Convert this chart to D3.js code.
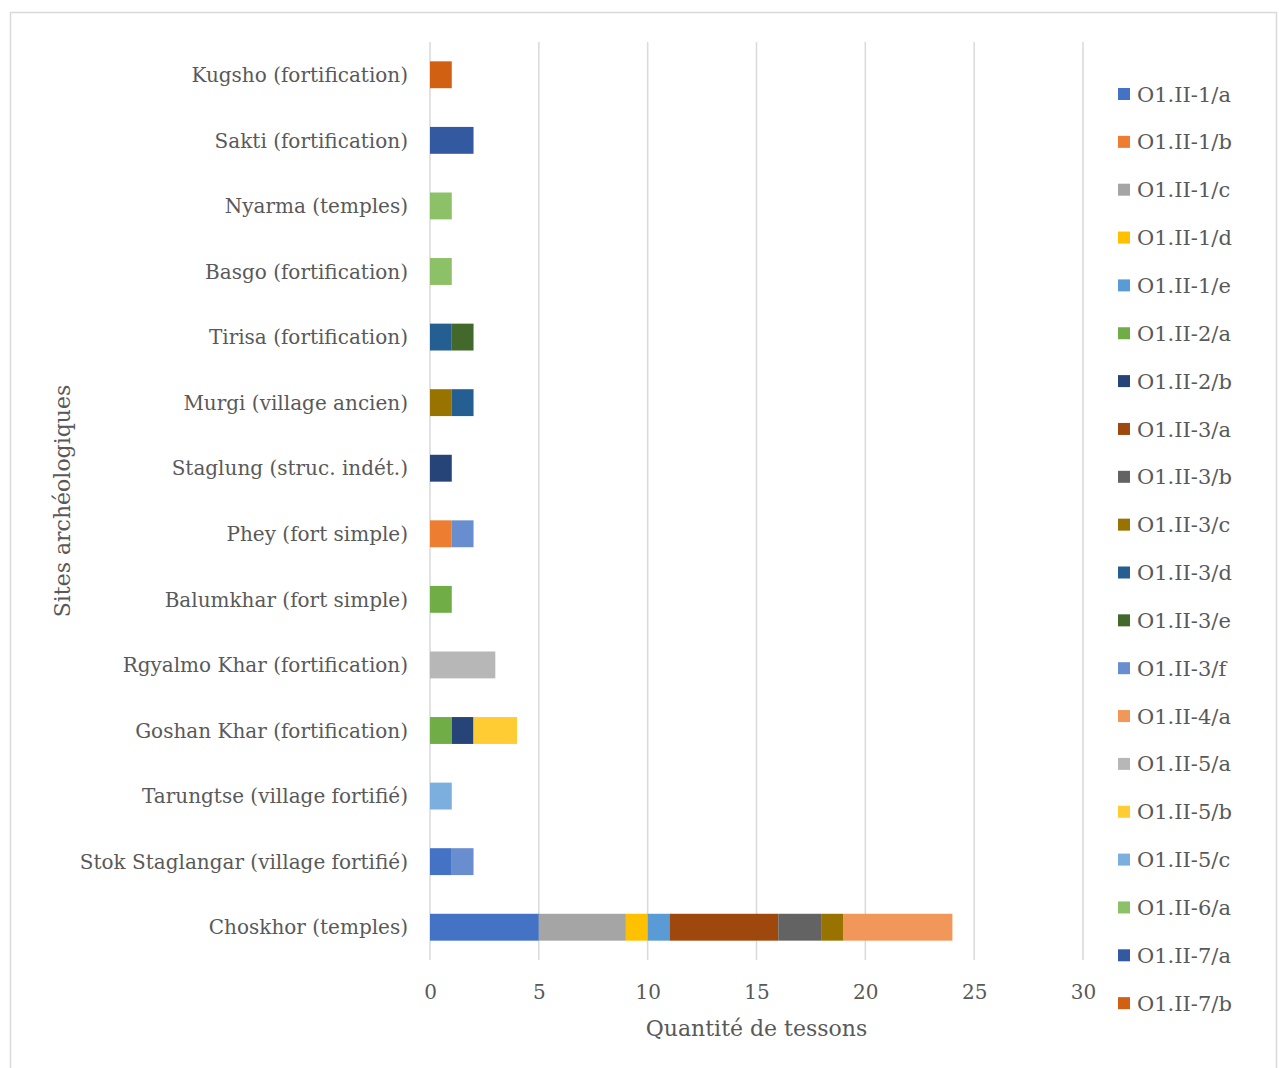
<!DOCTYPE html>
<html>
<head>
<meta charset="utf-8">
<script src="https://cdn.jsdelivr.net/npm/d3@7"></script>
<style>
  html, body { margin: 0; padding: 0; background: #fff; }
  svg { display: block; }
</style>
</head>
<body>
<svg id="chart" width="1279" height="1068"></svg>
<script>
// Categories (top to bottom)
const categories = [
  "Kugsho (fortification)",
  "Sakti (fortification)",
  "Nyarma (temples)",
  "Basgo (fortification)",
  "Tirisa (fortification)",
  "Murgi (village ancien)",
  "Staglung (struc. indét.)",
  "Phey (fort simple)",
  "Balumkhar (fort simple)",
  "Rgyalmo Khar (fortification)",
  "Goshan Khar (fortification)",
  "Tarungtse (village fortifié)",
  "Stok Staglangar (village fortifié)",
  "Choskhor (temples)"
];

const seriesNames = [
  "O1.II-1/a","O1.II-1/b","O1.II-1/c","O1.II-1/d","O1.II-1/e",
  "O1.II-2/a","O1.II-2/b",
  "O1.II-3/a","O1.II-3/b","O1.II-3/c","O1.II-3/d","O1.II-3/e","O1.II-3/f",
  "O1.II-4/a","O1.II-5/a","O1.II-5/b","O1.II-5/c","O1.II-6/a",
  "O1.II-7/a","O1.II-7/b"
];

const seriesColors = [
  "#4472C4","#ED7D31","#A5A5A5","#FFC000","#5B9BD5",
  "#70AD47","#264478",
  "#9E480E","#636363","#997300","#255E91","#43682B","#698ED0",
  "#F1975A","#B7B7B7","#FFCD33","#7CAFDD","#8CC168",
  "#335AA1","#D26012"
];

// values per series, aligned with categories (top to bottom)
const s1a = [0,0,0,0,0,0,0,0,0,0,0,0,1,5];
const s1b = [0,0,0,0,0,0,0,1,0,0,0,0,0,0];
const s1c = [0,0,0,0,0,0,0,0,0,0,0,0,0,4];
const s1d = [0,0,0,0,0,0,0,0,0,0,0,0,0,1];
const s1e = [0,0,0,0,0,0,0,0,0,0,0,0,0,1];
const s2a = [0,0,0,0,0,0,0,0,1,0,1,0,0,0];
const s2b = [0,0,0,0,0,0,1,0,0,0,1,0,0,0];
const s3a = [0,0,0,0,0,0,0,0,0,0,0,0,0,5];
const s3b = [0,0,0,0,0,0,0,0,0,0,0,0,0,2];
const s3c = [0,0,0,0,0,1,0,0,0,0,0,0,0,1];
const s3d = [0,0,0,0,1,1,0,0,0,0,0,0,0,0];
const s3e = [0,0,0,0,1,0,0,0,0,0,0,0,0,0];
const s3f = [0,0,0,0,0,0,0,1,0,0,0,0,1,0];
const s4a = [0,0,0,0,0,0,0,0,0,0,0,0,0,5];
const s5a = [0,0,0,0,0,0,0,0,0,3,0,0,0,0];
const s5b = [0,0,0,0,0,0,0,0,0,0,2,0,0,0];
const s5c = [0,0,0,0,0,0,0,0,0,0,0,1,0,0];
const s6a = [0,0,1,1,0,0,0,0,0,0,0,0,0,0];
const s7a = [0,2,0,0,0,0,0,0,0,0,0,0,0,0];
const s7b = [1,0,0,0,0,0,0,0,0,0,0,0,0,0];

const seriesValues = [s1a,s1b,s1c,s1d,s1e,s2a,s2b,s3a,s3b,s3c,s3d,s3e,s3f,s4a,s5a,s5b,s5c,s6a,s7a,s7b];

const xTicks = [0,5,10,15,20,25,30];
const xTitle = "Quantité de tessons";
const yTitle = "Sites archéologiques";

// ---- build table
const table = categories.map((c, i) => {
  const row = { cat: c };
  seriesNames.forEach((s, j) => row[s] = seriesValues[j][i]);
  return row;
});
const stacked = d3.stack().keys(seriesNames)(table);

const svg = d3.select("#chart");
const FONT = "'DejaVu Serif', serif";
const TXT = "#595959";

// chart border
svg.append("rect").attr("x", 10.5).attr("y", 12.5).attr("width", 1266).attr("height", 1060)
  .attr("fill", "#fff").attr("stroke", "#d9d9d9").attr("stroke-width", 1.5);

const plot = { left: 430, right: 1083, top: 42, bottom: 960 };

const x = d3.scaleLinear().domain([0, 30]).range([plot.left, plot.right]);
const y = d3.scaleBand().domain(categories).range([plot.top, plot.bottom]).paddingInner(0.59).paddingOuter(0.295);

// gridlines
svg.append("g").selectAll("line").data(xTicks).join("line")
  .attr("x1", d => x(d)).attr("x2", d => x(d))
  .attr("y1", plot.top).attr("y2", plot.bottom)
  .attr("stroke", "#d9d9d9").attr("stroke-width", 1.5);

// bars
svg.append("g").selectAll("g").data(stacked).join("g")
  .attr("fill", (d, i) => seriesColors[i])
  .selectAll("rect").data(d => d.filter(p => p[1] - p[0] > 0)).join("rect")
  .attr("x", p => x(p[0]))
  .attr("width", p => x(p[1]) - x(p[0]))
  .attr("y", p => y(p.data.cat))
  .attr("height", y.bandwidth());

// x axis tick labels
const xAxis = d3.axisBottom(x).tickValues(xTicks).tickSize(0).tickPadding(0);
const gx = svg.append("g").attr("transform", `translate(0, ${plot.bottom})`).call(xAxis);
gx.select(".domain").remove();
gx.selectAll("text").attr("font-family", FONT).attr("font-size", 20).attr("fill", TXT)
  .attr("dy", null).attr("y", 39);

// y axis labels
const yAxis = d3.axisLeft(y).tickSize(0).tickPadding(22);
const gy = svg.append("g").attr("transform", `translate(${plot.left}, 0)`).call(yAxis);
gy.select(".domain").remove();
gy.selectAll("text").attr("font-family", FONT).attr("font-size", 20).attr("fill", TXT)
  .attr("dy", "0.36em");

// axis titles
svg.append("text").attr("x", (plot.left + plot.right) / 2).attr("y", 1036)
  .attr("text-anchor", "middle").attr("font-family", FONT).attr("font-size", 22)
  .attr("fill", TXT).text(xTitle);
svg.append("text").attr("transform", `translate(70, 501) rotate(-90)`)
  .attr("text-anchor", "middle").attr("font-family", FONT).attr("font-size", 22)
  .attr("fill", TXT).text(yTitle);

// legend
const legY0 = 94, legStep = 47.85;
const leg = svg.append("g").selectAll("g").data(seriesNames).join("g")
  .attr("transform", (d, i) => `translate(1118, ${legY0 + i * legStep})`);
leg.append("rect").attr("x", 0).attr("y", -6).attr("width", 12).attr("height", 12)
  .attr("fill", (d, i) => seriesColors[i]);
leg.append("text").attr("x", 19).attr("y", 0).attr("dy", "0.36em")
  .attr("font-family", FONT).attr("font-size", 21).attr("fill", TXT).text(d => d);
</script>
</body>
</html>
